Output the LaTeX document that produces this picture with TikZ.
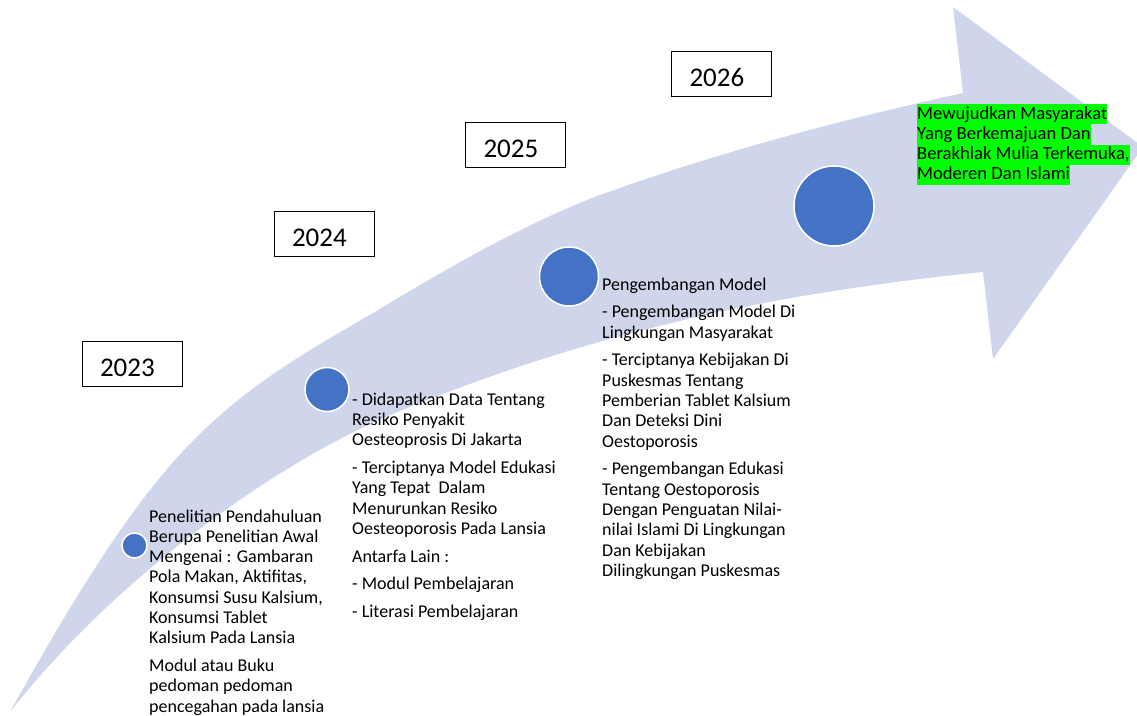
\documentclass[tikz,border=0pt]{standalone}
\usepackage{fontspec}
\setmainfont{Carlito}
\definecolor{arrowc}{HTML}{CFD5EA}
\definecolor{dotblue}{HTML}{4472C4}
\definecolor{hlgreen}{HTML}{00FF00}
\newcommand{\txtsz}{\fontsize{18}{20.3}\selectfont}
\newcommand{\hlsz}{\fontsize{18.6}{20.3}\selectfont}
\newcommand{\yrsz}{\fontsize{27}{30}\selectfont}
\begin{document}
\begin{tikzpicture}[x=1pt,y=-1pt,
  dot/.style={circle, fill=dotblue, draw=white, line width=1.5pt, inner sep=0},
  yearbox/.style={draw=black, line width=1pt, fill=white, minimum height=45pt,
    inner xsep=18pt, inner ysep=0pt, text width=64pt, align=left, font=\yrsz,
    text height=25pt, text depth=0pt},
  body/.style={anchor=base west, inner sep=0, font=\txtsz},
  hl/.style={anchor=base west, fill=hlgreen, inner xsep=0pt, inner ysep=0pt,
    text height=15pt, text depth=5.3pt, font=\hlsz}]
\useasboundingbox (0,0) rectangle (1137,715);
% curved arrow
\fill[arrowc] (10,712)
  .. controls (68.7,606.4) and (127.3,509.6) .. (186,448)
  .. controls (251.7,379.05) and (317.3,346.4) .. (383,307)
  .. controls (455.3,263.6) and (527.7,222.5) .. (600,195)
  .. controls (721,151.4) and (842,119.6) .. (963,93)
  -- (953,7) -- (1143,147) -- (993,359) -- (983,272)
  .. controls (783,292) and (600,329) .. (400,411)
  .. controls (270,464) and (110,584) .. (10,712)
  -- cycle;
% year boxes
\node[yearbox] (y23) at (132,363.5) {2023};
\node[yearbox] (y24) at (324,234) {2024};
\node[yearbox] (y25) at (515.5,144.5) {2025};
\node[yearbox] (y26) at (721.5,73.5) {2026};
% dots
\node[dot, minimum size=25pt] (c23) at (134.5,545.5) {};
\node[dot, minimum size=44pt] (c24) at (327,389.5) {};
\node[dot, minimum size=59pt] (c25) at (569,276.5) {};
\node[dot, minimum size=80pt] (c26) at (834,206) {};
% texts
\node[body] (t23) at (149,522) {\begin{tabular}[t]{@{}l@{}}
Penelitian Pendahuluan\\
Berupa Penelitian Awal\\
Mengenai : Gambaran\\
Pola Makan, Aktifitas,\\
Konsumsi Susu Kalsium,\\
Konsumsi Tablet\\
Kalsium Pada Lansia\\[7.5pt]
Modul atau Buku\\
pedoman pedoman\\
pencegahan pada lansia
\end{tabular}};
\node[body] (t24) at (352,405) {\begin{tabular}[t]{@{}l@{}}
- Didapatkan Data Tentang\\
Resiko Penyakit\\
Oesteoprosis Di Jakarta\\[7.5pt]
- Terciptanya Model Edukasi\\
Yang Tepat~ Dalam\\
Menurunkan Resiko\\
Oesteoporosis Pada Lansia\\[7.5pt]
Antarfa Lain :\\[7.5pt]
- Modul Pembelajaran\\[7.5pt]
- Literasi Pembelajaran
\end{tabular}};
\node[body] (t25) at (602,290) {\begin{tabular}[t]{@{}l@{}}
Pengembangan Model\\[7.5pt]
- Pengembangan Model Di\\
Lingkungan Masyarakat\\[7.5pt]
- Terciptanya Kebijakan Di\\
Puskesmas Tentang\\
Pemberian Tablet Kalsium\\
Dan Deteksi Dini\\
Oestoporosis\\[7.5pt]
- Pengembangan Edukasi\\
Tentang Oestoporosis\\
Dengan Penguatan Nilai-\\
nilai Islami Di Lingkungan\\
Dan Kebijakan\\
Dilingkungan Puskesmas
\end{tabular}};
% highlighted vision text
\node[hl] (g1) at (917,119) {Mewujudkan Masyarakat\hspace{9pt}};
\node[hl] (g2) at (917,139.3) {Yang Berkemajuan Dan\hspace{3pt}};
\node[hl] (g3) at (917,159.6) {Berakhlak Mulia Terkemuka,\hspace{2pt}};
\node[hl] (g4) at (917,179.9) {Moderen Dan Islami};
\end{tikzpicture}
\end{document}
